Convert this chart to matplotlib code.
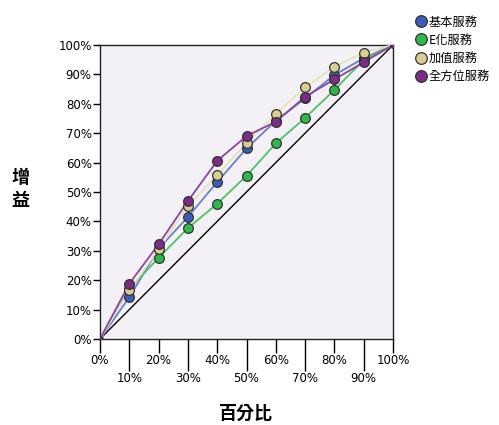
import matplotlib.pyplot as plt
from matplotlib.ticker import FixedLocator

plt.rcParams['font.family'] = ['Noto Sans CJK TC', 'DejaVu Sans']

# 資料
pct = [0, 10, 20, 30, 40, 50, 60, 70, 80, 90, 100]
series_names = ['基本服務', 'E化服務', '加值服務', '全方位服務']
basic = [0, 14.2, 30.7, 41.5, 53.4, 64.8, 74.2, 81.8, 89.8, 95.5, 100]
ebiz = [0, 17.0, 27.6, 37.7, 46.0, 55.5, 66.5, 75.2, 84.7, 94.9, 100]
value_add = [0, 16.5, 30.5, 45.2, 55.7, 66.7, 76.5, 85.6, 92.6, 97.4, 100]
full = [0, 18.8, 32.2, 46.9, 60.6, 69.0, 73.9, 82.4, 88.3, 94.1, 100]
tick_labels = ['0%', '10%', '20%', '30%', '40%', '50%', '60%', '70%', '80%', '90%', '100%']

colors = ['#3B5CB8', '#2DB84A', '#D8CE92', '#7D2A88']
line_colors = ['#6680D0', '#4CC465', '#E8E2B8', '#8E44A0']

fig = plt.figure(figsize=(4.99, 4.25), dpi=100)
ax = fig.add_axes([0.2004, 0.2024, 0.5872, 0.6918])
ax.set_facecolor('#F3F1F5')

ax.plot([0, 100], [0, 100], color='black', linewidth=1, zorder=2)

all_series = [basic, ebiz, value_add, full]
for name, vals, c, lc in zip(series_names, all_series, colors, line_colors):
    ax.plot(pct, vals, color=lc, linewidth=1.3, zorder=3)
    ax.plot(pct[1:-1], vals[1:-1], linestyle='none', marker='o', markersize=7,
            markerfacecolor=c, markeredgecolor='#333333', markeredgewidth=0.9,
            zorder=4, label=name)
# 端點
ax.plot([0, 100], [0, 100], linestyle='none', marker='o', markersize=4,
        markerfacecolor='#7D2A88', markeredgecolor='#333333', zorder=5)

ax.set_xlim(0, 100)
ax.set_ylim(0, 100)

ax.set_yticks(pct)
ax.set_yticklabels(tick_labels, fontsize=8.5, family='DejaVu Sans')
ax.tick_params(axis='y', length=5, width=1, pad=1)

# x 軸標籤交錯
ax.xaxis.set_major_locator(FixedLocator(pct[::2]))
ax.xaxis.set_minor_locator(FixedLocator(pct[1::2]))
ax.set_xticklabels(tick_labels[::2], fontsize=8.5, family='DejaVu Sans')
ax.set_xticklabels(tick_labels[1::2], minor=True, fontsize=8.5, family='DejaVu Sans')
ax.tick_params(axis='x', which='major', length=10, width=1, pad=1)
ax.tick_params(axis='x', which='minor', length=23, width=1, pad=1)

for s in ax.spines.values():
    s.set_linewidth(1)
    s.set_color('#222222')

fig.text(0.493, 0.028, '百分比', ha='center', va='center', fontsize=13, fontweight='bold')
fig.text(0.04, 0.555, '增\n益', ha='center', va='center', fontsize=13,
         fontweight='bold', linespacing=1.3)

leg = ax.legend(loc='upper left', bbox_to_anchor=(0.822, 0.975),
                bbox_transform=fig.transFigure, frameon=False, fontsize=8.8,
                handletextpad=0.1, labelspacing=0.42, handlelength=1.0,
                markerscale=1.2, borderaxespad=0)

fig.savefig('out.png', dpi=100)
